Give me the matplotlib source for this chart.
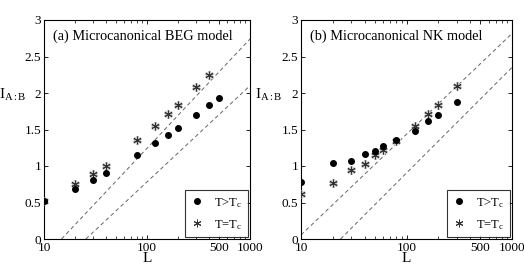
import matplotlib
matplotlib.use("Agg")
import matplotlib.pyplot as plt
from matplotlib.ticker import FixedLocator, NullFormatter, LogLocator

plt.rcParams['font.family'] = ['Liberation Serif', 'DejaVu Serif']
plt.rcParams['mathtext.fontset'] = 'custom'
plt.rcParams['mathtext.rm'] = 'Liberation Serif'
plt.rcParams['mathtext.it'] = 'Liberation Serif:italic'

# Panel (a): Microcanonical BEG model
L_a = [10, 20, 30, 40, 80, 120, 160, 200, 300, 400, 500]
I_a_hot = [0.52, 0.69, 0.81, 0.90, 1.15, 1.31, 1.43, 1.52, 1.70, 1.83, 1.93]
L_a_crit = [10, 20, 30, 40, 80, 120, 160, 200, 300, 400]
I_a_crit = [0.52, 0.76, 0.89, 1.00, 1.35, 1.55, 1.71, 1.83, 2.08, 2.25]
# dashed reference lines (endpoints)
La_line1 = [14.8, 1000]; Ia_line1 = [0.0, 2.74]
La_line2 = [25.5, 1000]; Ia_line2 = [0.0, 2.10]

# Panel (b): Microcanonical NK model
L_b = [10, 20, 30, 40, 50, 60, 80, 120, 160, 200, 300]
I_b_hot = [0.78, 1.04, 1.075, 1.17, 1.20, 1.27, 1.35, 1.48, 1.61, 1.70, 1.87]
I_b_crit = [0.61, 0.77, 0.94, 1.03, 1.15, 1.22, 1.34, 1.55, 1.71, 1.84, 2.09]
Lb_line1 = [10, 1000]; Ib_line1 = [0.055, 2.815]
Lb_line2 = [23.7, 1000]; Ib_line2 = [0.0, 2.35]

xticks = [10, 100, 500, 1000]
xticklabels = ['10', '100', '500', '1000']
yticks = [0, 0.5, 1, 1.5, 2, 2.5, 3]
yticklabels = ['0', '0.5', '1', '1.5', '2', '2.5', '3']

W, H = 524, 269
fig = plt.figure(figsize=(W / 100, H / 100), dpi=100)

def pos(x0, x1, y0, y1):
    return [x0 / W, 1 - y1 / H, (x1 - x0) / W, (y1 - y0) / H]

axes = [fig.add_axes(pos(44, 250, 20, 239)), fig.add_axes(pos(301, 512, 20, 239))]
titles = ['(a) Microcanonical BEG model', '(b) Microcanonical NK model']
datasets = [
    (L_a, I_a_hot, L_a_crit, I_a_crit, (La_line1, Ia_line1), (La_line2, Ia_line2)),
    (L_b, I_b_hot, L_b, I_b_crit, (Lb_line1, Ib_line1), (Lb_line2, Ib_line2)),
]

for ax, title, (Lh, Ih, Lc, Ic, l1, l2) in zip(axes, titles, datasets):
    ax.set_xscale('log')
    ax.set_xlim(10, 1000)
    ax.set_ylim(0, 3)
    for lx, ly in (l1, l2):
        ax.plot(lx, ly, color='#666666', lw=0.7, dashes=(4, 3))
    # star halo + star
    ax.plot(Lc, Ic, ls='none', marker=(6, 2, 0), ms=6.5, mec='#c8c8c8', mew=2.0, zorder=3)
    st, = ax.plot(Lc, Ic, ls='none', marker=(6, 2, 0), ms=5.5, mec='#333333', mew=0.7, zorder=4,
                  label='T=T$_\\mathrm{c}$')
    dt, = ax.plot(Lh, Ih, ls='none', marker='o', ms=4, color='black', zorder=5,
                  label='T>T$_\\mathrm{c}$')
    ax.xaxis.set_major_locator(FixedLocator(xticks))
    ax.set_xticklabels(xticklabels)
    ax.xaxis.set_minor_locator(LogLocator(base=10, subs=range(2, 10)))
    ax.xaxis.set_minor_formatter(NullFormatter())
    ax.set_yticks(yticks)
    ax.set_yticklabels(yticklabels)
    ax.tick_params(which='both', direction='in', top=True, right=True, labelsize=9.5, pad=2)
    ax.tick_params(which='major', length=3, width=0.6)
    ax.tick_params(which='minor', length=2, width=0.5)
    for s in ax.spines.values():
        s.set_linewidth(0.8)
    ax.text(0.045, 0.955, title, transform=ax.transAxes, ha='left', va='top', fontsize=10.3)
    ax.set_xlabel('L', fontsize=11, labelpad=-1)
    ax.text(-0.22, 0.66, 'I$_\\mathrm{A:B}$', transform=ax.transAxes, ha='left', va='center',
            fontsize=11)
    leg = ax.legend(handles=[dt, st], loc='lower right', fontsize=9, frameon=True, fancybox=False,
                    edgecolor='black', handlelength=1.0, handletextpad=0.9, borderpad=0.45,
                    labelspacing=0.65, borderaxespad=0.15)
    leg.get_frame().set_linewidth(0.8)

fig.savefig('out.png', dpi=100)
